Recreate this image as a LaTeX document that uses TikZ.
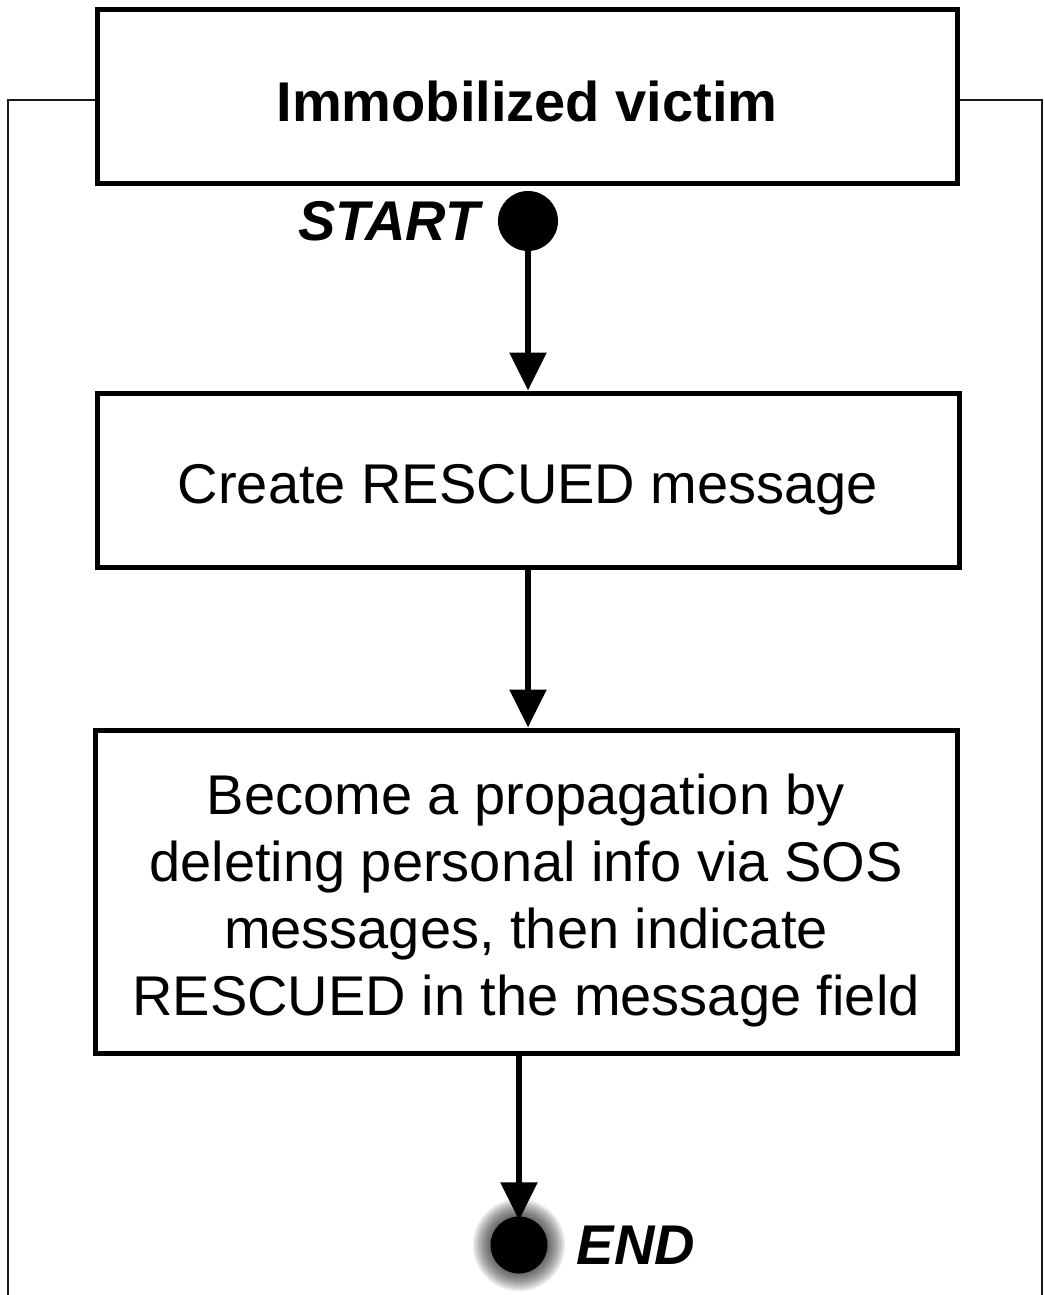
\documentclass[tikz,border=0pt]{standalone}
\usepackage{fontspec}
\setmainfont{Liberation Sans}
\usetikzlibrary{arrows.meta}
\begin{document}
\begin{tikzpicture}[x=1pt,y=-1pt,
  stepbox/.style={draw=black, line width=5pt, fill=white, inner sep=0pt},
  boxtext/.style={font=\fontsize{56}{67}\selectfont, align=center, inner sep=0pt},
  tagtext/.style={font=\fontsize{56}{67}\selectfont\bfseries\itshape, inner sep=0pt},
  dot/.style={circle, fill=black, inner sep=0pt, minimum size=60pt},
  flow/.style={line width=5.5pt, -{Triangle[length=38pt,width=36pt]}},
  frame/.style={line width=2.5pt, black!90}
]
\useasboundingbox (0,0) rectangle (1044,1295);

% outer frame lines leaving the title box
\coordinate (fl1) at (8,100);
\coordinate (fl2) at (8,1300);
\coordinate (fr1) at (1042,100);
\coordinate (fr2) at (1042,1300);

% boxes
\node[stepbox, minimum width=860pt, minimum height=173pt] (b1) at (527,96.5) {};
\node[stepbox, minimum width=862pt, minimum height=174pt] (b2) at (528,480) {};
\node[stepbox, minimum width=862pt, minimum height=323pt] (b3) at (526,891.5) {};

\draw[frame] (b1.west |- fl1) -- (fl1) -- (fl2);
\draw[frame] (b1.east |- fr1) -- (fr1) -- (fr2);

% box texts
\node[boxtext, font=\fontsize{56}{67}\selectfont\bfseries] (t1) at (527,101) {Immobilized victim};
\node[boxtext] (t2) at (528,490) {Create RESCUED message};
\node[boxtext] (t3) at (526,901) {Become a propagation by\\deleting personal info via SOS\\messages, then indicate\\RESCUED in the message field};

% start point
\node[dot] (s) at (528,221) {};
\node[tagtext, anchor=east] (st) at ([xshift=-18pt]s.west) {START};

% end point with soft halo
\coordinate (ec) at (519,1245);
\foreach \r in {46,44,42,40,38,36,34,32,30} {
  \fill[black, opacity=0.09] (ec) circle (\r pt);
}
\node[dot, minimum size=57pt] (e) at (ec) {};
\node[tagtext, anchor=west] (en) at ([xshift=29pt]e.east) {END};

% connectors
\draw[flow] (s) -- (s |- b2.north);
\draw[flow] (b2.south) -- (b2.south |- b3.north);
\draw[flow] (b3.south -| e) -- ([yshift=-4pt]e.north);
\end{tikzpicture}
\end{document}
